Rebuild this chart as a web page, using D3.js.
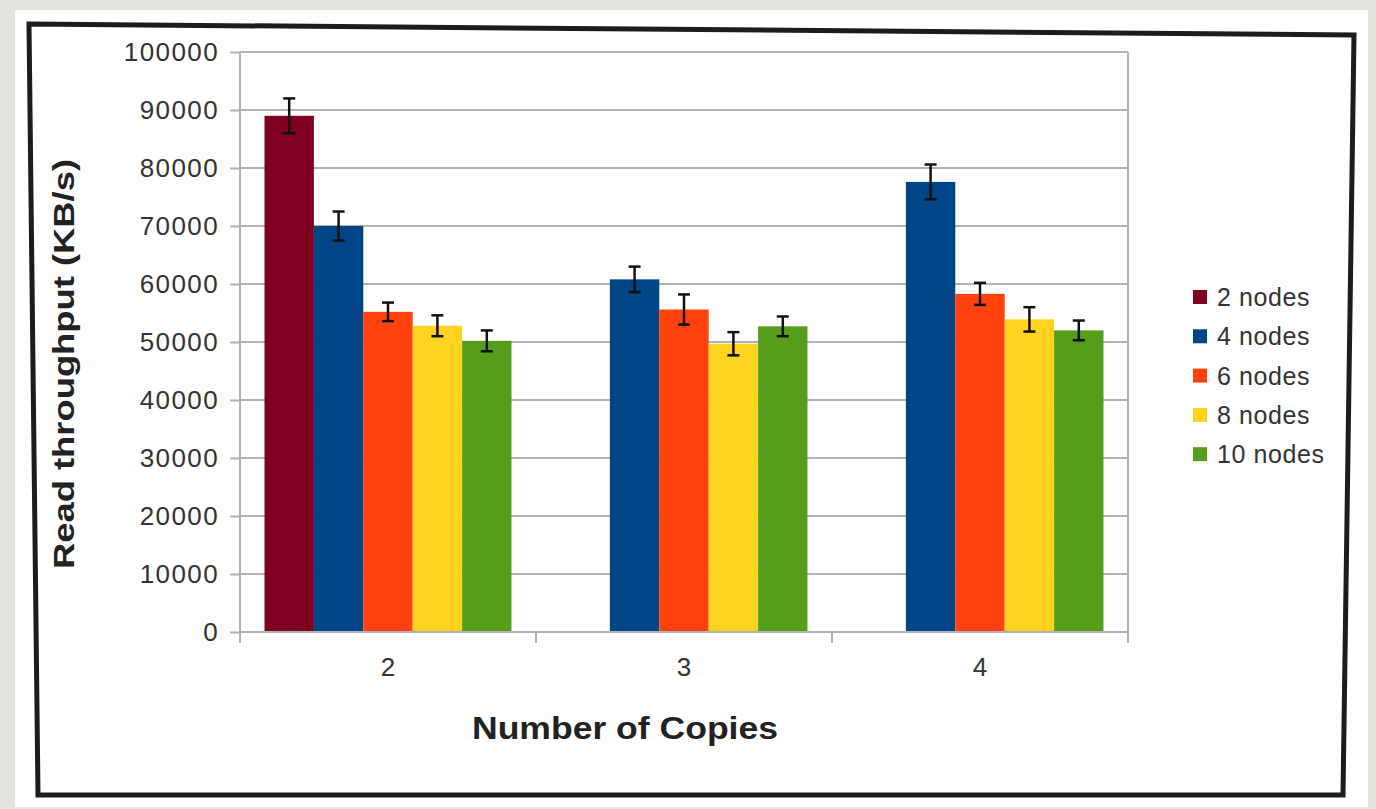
<!DOCTYPE html>
<html>
<head>
<meta charset="utf-8">
<script src="https://cdn.jsdelivr.net/npm/d3@7/dist/d3.min.js"></script>
<style>
  html, body { margin: 0; padding: 0; background: #e4e4de; }
  svg { display: block; }
  text { font-family: "Liberation Sans", Arial, sans-serif; }
</style>
</head>
<body>
<svg id="chart" width="1376" height="809"></svg>
<script>
// ---- data ----
const categories = ["2", "3", "4"];
const seriesNames = ["2 nodes", "4 nodes", "6 nodes", "8 nodes", "10 nodes"];
const seriesColors = ["#7e0021", "#004586", "#ff420e", "#ffd320", "#579d1c"];
const values2 = [89000, null, null];
const values4 = [70000, 60800, 77600];
const values6 = [55200, 55600, 58300];
const values8 = [52800, 49700, 53900];
const values10 = [50200, 52700, 52000];
const err2 = [3000, null, null];
const err4 = [2500, 2200, 3000];
const err6 = [1600, 2600, 1900];
const err8 = [1800, 2000, 2100];
const err10 = [1800, 1700, 1700];
const yTicks = [0, 10000, 20000, 30000, 40000, 50000, 60000, 70000, 80000, 90000, 100000];
const xTitle = "Number of Copies";
const yTitle = "Read throughput (KB/s)";

const allValues = [values2, values4, values6, values8, values10];
const allErrors = [err2, err4, err6, err8, err10];
const rows = [];
seriesNames.forEach((s, si) => {
  categories.forEach((c, ci) => {
    if (allValues[si][ci] != null) rows.push({ series: s, cat: c, value: allValues[si][ci], err: allErrors[si][ci], color: seriesColors[si] });
  });
});

const svg = d3.select("#chart");

// paper and hand-drawn frame
svg.append("rect").attr("x", 15).attr("y", 10).attr("width", 1353).attr("height", 797).attr("fill", "#ffffff");
svg.append("path")
  .attr("d", "M29,24 L1354,35 L1343,795 L38,795 Z")
  .attr("fill", "none").attr("stroke", "#1c1c1c").attr("stroke-width", 5).attr("stroke-linejoin", "miter");

const pLeft = 240, pRight = 1128, pTop = 52, pBottom = 632;
const x = d3.scaleBand().domain(categories).range([pLeft, pRight]).paddingInner(0).paddingOuter(0);
const xs = d3.scaleBand().domain(seriesNames).range([24.5, x.bandwidth() - 24.5]).padding(0);
const y = d3.scaleLinear().domain([0, 100000]).range([pBottom, pTop]);

const grid = "#b3b3b3";

// gridlines
svg.append("g").selectAll("line").data(yTicks).join("line")
  .attr("x1", pLeft).attr("x2", pRight)
  .attr("y1", d => y(d)).attr("y2", d => y(d))
  .attr("stroke", grid).attr("stroke-width", 2);
// right border
svg.append("line").attr("x1", pRight).attr("x2", pRight).attr("y1", pTop).attr("y2", pBottom)
  .attr("stroke", grid).attr("stroke-width", 2);

// bars
svg.append("g").selectAll("rect").data(rows).join("rect")
  .attr("x", d => x(d.cat) + xs(d.series))
  .attr("width", xs.bandwidth())
  .attr("y", d => y(d.value))
  .attr("height", d => y(0) - y(d.value))
  .attr("fill", d => d.color);

// error bars
const eb = svg.append("g").attr("stroke", "#111").attr("stroke-width", 2.5);
rows.forEach(d => {
  const cx = x(d.cat) + xs(d.series) + xs.bandwidth() / 2;
  const y1 = y(d.value + d.err), y2 = y(d.value - d.err);
  eb.append("line").attr("x1", cx).attr("x2", cx).attr("y1", y1).attr("y2", y2);
  eb.append("line").attr("x1", cx - 6).attr("x2", cx + 6).attr("y1", y1).attr("y2", y1);
  eb.append("line").attr("x1", cx - 6).attr("x2", cx + 6).attr("y1", y2).attr("y2", y2);
});

// y axis
const yAxis = svg.append("g").attr("transform", `translate(${pLeft},0)`)
  .call(d3.axisLeft(y).tickValues(yTicks).tickSize(10).tickPadding(11).tickFormat(d3.format("d")));
yAxis.select(".domain").attr("stroke", grid).attr("stroke-width", 2).attr("d", `M0,${pTop}V${pBottom + 11}`);
yAxis.selectAll(".tick line").attr("stroke", grid).attr("stroke-width", 2);
yAxis.selectAll(".tick text").attr("fill", "#333").attr("font-size", 26).attr("letter-spacing", 1.4)
  .attr("font-family", "Liberation Sans, Arial, sans-serif");

// x axis
const xAxis = svg.append("g").attr("transform", `translate(0,${pBottom})`)
  .call(d3.axisBottom(x).tickSize(0).tickPadding(26));
xAxis.select(".domain").attr("stroke", grid).attr("stroke-width", 2).attr("d", `M${pLeft},0H${pRight}`);
xAxis.selectAll(".tick text").attr("fill", "#333").attr("font-size", 26)
  .attr("font-family", "Liberation Sans, Arial, sans-serif");
// category boundary ticks
svg.append("g").selectAll("line").data(categories.concat(["end"])).join("line")
  .attr("x1", d => d === "end" ? pRight : x(d)).attr("x2", d => d === "end" ? pRight : x(d))
  .attr("y1", pBottom).attr("y2", pBottom + 11)
  .attr("stroke", grid).attr("stroke-width", 2);

// titles
svg.append("text").text(xTitle)
  .attr("x", 625).attr("y", 739).attr("text-anchor", "middle")
  .attr("font-size", 31).attr("font-weight", "bold").attr("fill", "#222")
  .attr("textLength", 306).attr("lengthAdjust", "spacingAndGlyphs");
svg.append("text").text(yTitle)
  .attr("transform", "translate(74,364) rotate(-90)").attr("text-anchor", "middle")
  .attr("font-size", 29).attr("font-weight", "bold").attr("fill", "#222")
  .attr("textLength", 410).attr("lengthAdjust", "spacingAndGlyphs");

// legend
const lg = svg.append("g").attr("transform", "translate(1193,297)");
const items = lg.selectAll("g").data(seriesNames).join("g")
  .attr("transform", (d, i) => `translate(0,${i * 39.3})`);
items.append("rect").attr("x", 0).attr("y", -7).attr("width", 14).attr("height", 14)
  .attr("fill", (d, i) => seriesColors[i]);
items.append("text").text(d => d).attr("x", 24).attr("y", 9)
  .attr("font-size", 25).attr("fill", "#333").attr("letter-spacing", 0.6);
</script>
</body>
</html>
